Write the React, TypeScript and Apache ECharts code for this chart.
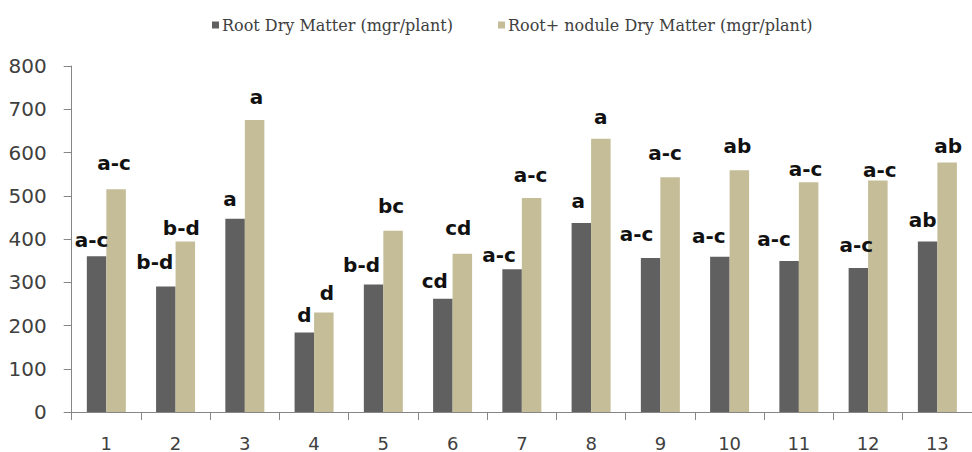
import React, { useEffect, useRef } from "react";
import * as echarts from "echarts";

const categories = ["1", "2", "3", "4", "5", "6", "7", "8", "9", "10", "11", "12", "13"];
const seriesNames = ["Root Dry Matter (mgr/plant)", "Root+ nodule Dry Matter (mgr/plant)"];
const rootDryMatter = [360, 290, 447, 184, 295, 262, 330, 437, 356, 359, 349, 333, 394];
const noduleDryMatter = [515, 394, 675, 230, 419, 366, 495, 632, 543, 559, 531, 535, 577];
const rootLetters = ["a-c", "b-d", "a", "d", "b-d", "cd", "a-c", "a", "a-c", "a-c", "a-c", "a-c", "ab"];
const noduleLetters = ["a-c", "b-d", "a", "d", "bc", "cd", "a-c", "a", "a-c", "ab", "a-c", "a-c", "ab"];
const yTicks = { min: 0, max: 800, interval: 100 };

// label placement offsets (pixels) relative to the top of each bar
const rootLabelOffsets = [
  [-5, -6], [-11, -15], [-5, -10], [0, -7], [-12, -9], [-8, -8], [-13, -4],
  [-3, -12], [-14, -14], [-11, -11], [-15, -12], [-2, -13], [-5, -12],
];
const noduleLabelOffsets = [
  [-2, -16], [-4, -4], [2, -13], [3, -10], [-2, -15], [-4, -16], [-1, -13],
  [0, -12], [-5, -14], [-2, -14], [-3, -3], [2, -1], [1, -6],
];

const labelStyle = {
  show: true,
  position: "top",
  distance: 0,
  fontFamily: "DejaVu Sans",
  fontWeight: "bold",
  fontSize: 20,
  color: "#111111",
};

function buildData(values: number[], letters: string[], offsets: number[][]) {
  return values.map((v, i) => ({
    value: v,
    label: { ...labelStyle, formatter: letters[i], offset: offsets[i] },
  }));
}

export default function App() {
  const ref = useRef<HTMLDivElement>(null);
  useEffect(() => {
    if (!ref.current) return;
    const chart = echarts.init(ref.current, undefined, { renderer: "svg" });
    const legendText = { fontFamily: "DejaVu Serif", fontSize: 16, color: "#404040", padding: [0, 0, 0, -2] };
    chart.setOption({
      animation: false,
      backgroundColor: "#ffffff",
      legend: [
        {
          data: [seriesNames[0]],
          left: 207,
          top: 12,
          itemWidth: 7,
          itemHeight: 7,
          itemGap: 0,
          textStyle: legendText,
          icon: "rect",
        },
        {
          data: [seriesNames[1]],
          left: 493,
          top: 12,
          itemWidth: 7,
          itemHeight: 7,
          itemGap: 0,
          textStyle: legendText,
          icon: "rect",
        },
      ],
      grid: { left: 71.7, top: 66, width: 911.3, bottom: 39, containLabel: false },
      xAxis: {
        type: "category",
        data: categories,
        axisLine: { show: true, lineStyle: { color: "#868686", width: 1 } },
        axisTick: { show: true, length: 8, lineStyle: { color: "#868686" } },
        axisLabel: {
          fontFamily: "DejaVu Sans",
          fontSize: 18,
          color: "#404040",
          margin: 22,
        },
      },
      yAxis: {
        type: "value",
        min: yTicks.min,
        max: yTicks.max,
        interval: yTicks.interval,
        splitLine: { show: false },
        axisLine: { show: true, lineStyle: { color: "#868686", width: 1 } },
        axisTick: { show: true, length: 8, lineStyle: { color: "#868686" } },
        axisLabel: {
          fontFamily: "DejaVu Sans",
          fontSize: 20,
          color: "#404040",
          margin: 25,
        },
      },
      series: [
        {
          name: seriesNames[0],
          type: "bar",
          barWidth: 19.5,
          barGap: "0%",
          itemStyle: { color: "#606060" },
          data: buildData(rootDryMatter, rootLetters, rootLabelOffsets),
        },
        {
          name: seriesNames[1],
          type: "bar",
          barWidth: 19.5,
          barGap: "0%",
          itemStyle: { color: "#c4bd97" },
          data: buildData(noduleDryMatter, noduleLetters, noduleLabelOffsets),
        },
      ],
    });
    return () => chart.dispose();
  }, []);
  return <div ref={ref} style={{ width: 972, height: 452, position: "absolute", left: 0, top: 0 }} />;
}
